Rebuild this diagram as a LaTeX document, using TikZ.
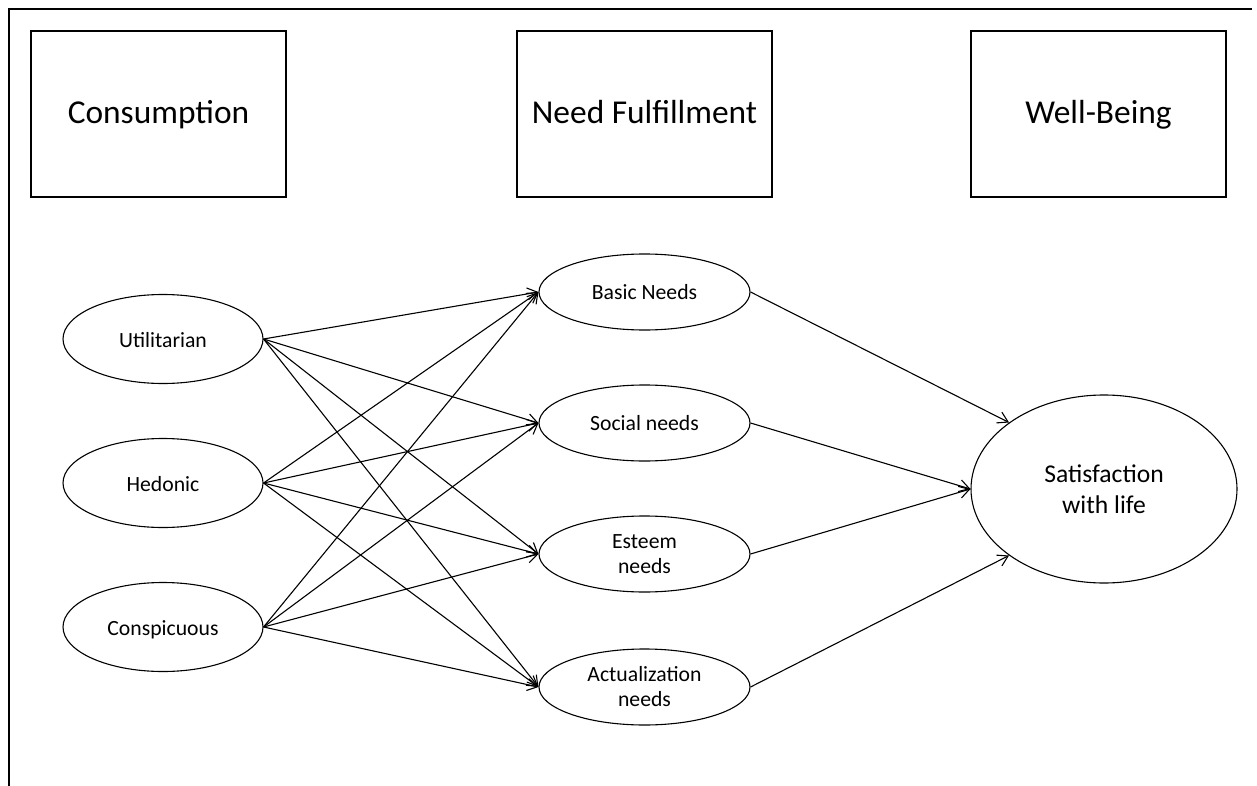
\documentclass[tikz,border=0pt]{standalone}
\usepackage{fontspec}
\setmainfont{Carlito}
\usetikzlibrary{arrows.meta,shapes.geometric}
\tikzset{
  hdrbox/.style={draw, line width=1.1pt, minimum width=255pt, minimum height=166pt, inner sep=0pt, text height=24pt, text depth=4pt, font=\fontsize{33.4}{40}\selectfont},
  smallell/.style={draw, ellipse, line width=1.1pt, inner sep=0pt, align=center, font=\fontsize{21.7}{25}\selectfont},
  leftell/.style={smallell, minimum width=200pt, minimum height=89pt, text height=17pt, text depth=1pt},
  midell/.style={smallell, minimum width=211pt, minimum height=76pt},
  midone/.style={midell, text height=16pt, text depth=2pt},
  bigell/.style={draw, ellipse, line width=1.1pt, inner sep=0pt, align=center, minimum width=266pt, minimum height=188pt, font=\fontsize{25.6}{30.5}\selectfont},
  conn/.style={line width=1.1pt, -{Straight Barb[length=10pt,width=12pt,line width=1.1pt]}},
  frame/.style={line width=1.3pt}
}
\begin{document}
\begin{tikzpicture}[x=1pt,y=-1pt]
\useasboundingbox (0,0) rectangle (1257,786);
\coordinate (ftr) at (1252,9);
\coordinate (ftl) at (9,9);
\coordinate (fbl) at (9,786);
\draw[frame] (ftr) -- (ftl) -- (fbl);

\node[hdrbox] (cons) at (158.5,114) {Consumption};
\node[hdrbox] (need) at (644.5,114) {Need Fulfillment};
\node[hdrbox] (well) at (1098.5,114) {Well-Being};

\node[leftell] (util) at (163,339) {Utilitarian};
\node[leftell] (hed) at (163,483) {Hedonic};
\node[leftell] (consp) at (163,627) {Conspicuous};

\node[midone] (basic) at (644.5,292) {Basic Needs};
\node[midone] (social) at (644.5,423) {Social needs};
\node[midell] (esteem) at (644.5,554) {Esteem\\needs};
\node[midell] (actual) at (644.5,687) {Actualization\\needs};

\node[bigell] (sat) at (1104,489) {Satisfaction\\with life};

\foreach \s in {util,hed,consp}{
  \foreach \t in {basic,social,esteem,actual}{
    \draw[conn] (\s.east) -- (\t.west);
  }
}
\draw[conn] (basic.east) -- (sat.145);
\draw[conn] (social.east) -- (sat.west);
\draw[conn] (esteem.east) -- (sat.west);
\draw[conn] (actual.east) -- (sat.215);
\end{tikzpicture}
\end{document}
